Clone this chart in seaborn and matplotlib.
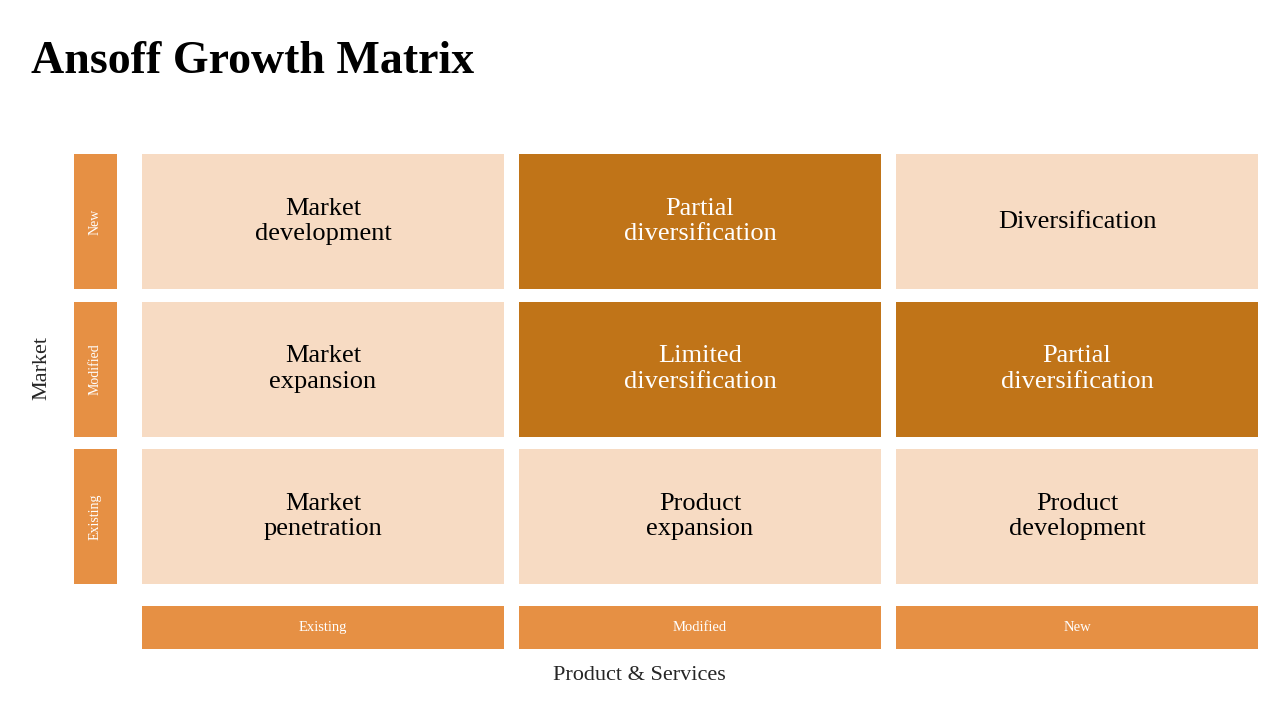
import seaborn as sns
from matplotlib import pyplot as plt
from matplotlib.patches import Rectangle

sns.set_theme(style="white")
plt.rcParams["font.family"] = "Liberation Serif"

# Data
market_levels = ["New", "Modified", "Existing"]          # rows, top to bottom
product_levels = ["Existing", "Modified", "New"]         # columns, left to right
cell_labels = [
    ["Market\ndevelopment", "Partial\ndiversification", "Diversification"],
    ["Market\nexpansion", "Limited\ndiversification", "Partial\ndiversification"],
    ["Market\npenetration", "Product\nexpansion", "Product\ndevelopment"],
]
highlight = [
    [0, 1, 0],
    [0, 1, 1],
    [0, 0, 0],
]

LIGHT = "#F7DBC3"
DARK = "#C07418"
LABEL = "#E69044"

# Layout (pixel units)
col_x0, col_w, col_gap = 142, 362, 15
row_y0, row_h, row_gap = 154, 135, 12.5
side_x, side_w = 74, 43
bottom_y, bottom_h = 606, 43

fig = plt.figure(figsize=(12.8, 7.2), dpi=100)
ax = fig.add_axes([0, 0, 1, 1])
ax.set_xlim(0, 1280)
ax.set_ylim(720, 0)
ax.axis("off")

for r, row in enumerate(cell_labels):
    y = row_y0 + r * (row_h + row_gap)
    for c, label in enumerate(row):
        x = col_x0 + c * (col_w + col_gap)
        dark = highlight[r][c]
        ax.add_patch(Rectangle((x, y), col_w, row_h, color=DARK if dark else LIGHT, lw=0))
        ax.text(x + col_w / 2, y + row_h / 2, label, ha="center", va="center",
                fontsize=19, linespacing=1.2, color="white" if dark else "black")
    ax.add_patch(Rectangle((side_x, y), side_w, row_h, color=LABEL, lw=0))
    ax.text(side_x + side_w / 2, y + row_h / 2, market_levels[r], rotation=90,
            ha="center", va="center", fontsize=10, color="white")

for c, label in enumerate(product_levels):
    x = col_x0 + c * (col_w + col_gap)
    ax.add_patch(Rectangle((x, bottom_y), col_w, bottom_h, color=LABEL, lw=0))
    ax.text(x + col_w / 2, bottom_y + bottom_h / 2, label, ha="center", va="center",
            fontsize=10.5, color="white")

ax.text(31, 62, "Ansoff Growth Matrix", ha="left", va="center", fontsize=33,
        fontweight="bold", color="black")
ax.text(42, 368, "Market", rotation=90, ha="center", va="center", fontsize=16)
ax.text(639, 676, "Product & Services", ha="center", va="center", fontsize=16)

fig.savefig("out.png", dpi=100)
